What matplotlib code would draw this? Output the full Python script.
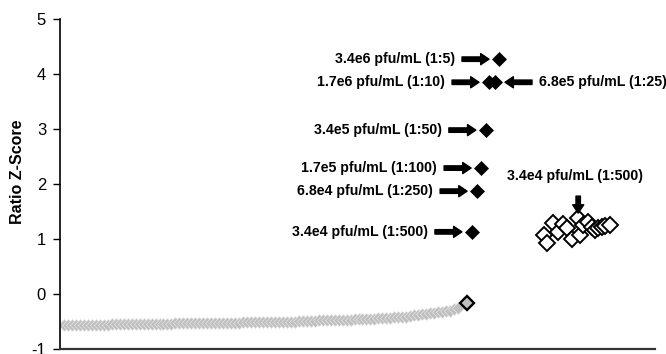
import matplotlib
matplotlib.use("Agg")
import matplotlib.pyplot as plt

plt.rcParams["font.family"] = ["Liberation Sans", "DejaVu Sans"]

# background samples, ranked by ratio z-score
bg_rank = list(range(1, 101))
bg_z = [
    -0.57, -0.57, -0.57, -0.57, -0.57, -0.56, -0.56, -0.56, -0.56, -0.56,
    -0.56, -0.56, -0.55, -0.55, -0.55, -0.55, -0.55, -0.55, -0.55, -0.55,
    -0.54, -0.54, -0.54, -0.54, -0.54, -0.54, -0.54, -0.54, -0.53, -0.53,
    -0.53, -0.53, -0.53, -0.53, -0.53, -0.53, -0.52, -0.52, -0.52, -0.52,
    -0.52, -0.52, -0.52, -0.52, -0.52, -0.51, -0.51, -0.51, -0.51, -0.51,
    -0.51, -0.51, -0.50, -0.50, -0.50, -0.50, -0.50, -0.50, -0.50, -0.49,
    -0.49, -0.49, -0.49, -0.49, -0.48, -0.48, -0.48, -0.48, -0.48, -0.47,
    -0.47, -0.47, -0.47, -0.46, -0.46, -0.46, -0.45, -0.45, -0.45, -0.44,
    -0.44, -0.43, -0.43, -0.42, -0.42, -0.41, -0.41, -0.40, -0.39, -0.38,
    -0.37, -0.36, -0.35, -0.34, -0.33, -0.32, -0.31, -0.30, -0.28, -0.26,
]

# negative control
ctrl_rank = [102.3]
ctrl_z = [-0.16]

# spiked dilution series
dil_labels = [
    "3.4e4 pfu/mL (1:500)",
    "6.8e4 pfu/mL (1:250)",
    "1.7e5 pfu/mL (1:100)",
    "3.4e5 pfu/mL (1:50)",
    "1.7e6 pfu/mL (1:10)",
    "6.8e5 pfu/mL (1:25)",
    "3.4e6 pfu/mL (1:5)",
]
dil_rank = [103.5, 104.8, 105.8, 107.0, 107.8, 109.3, 110.3]
dil_z = [1.13, 1.87, 2.29, 2.98, 3.85, 3.85, 4.27]
dil_side = ["left", "left", "left", "left", "left", "right", "left"]

# replicate spikes at the lowest dilution
rep_label = "3.4e4 pfu/mL (1:500)"
rep_rank = [121.6, 122.4, 123.9, 125.1, 126.4, 127.4, 128.6, 130.2, 130.7,
            131.4, 132.7, 133.7, 134.4, 135.2, 136.2, 136.9, 138.2]
rep_z = [1.07, 0.93, 1.29, 1.13, 1.27, 1.20, 1.00, 1.38, 1.07,
         1.25, 1.31, 1.22, 1.16, 1.20, 1.22, 1.24, 1.25]
rep_pointed = 7

y_ticks = [-1, 0, 1, 2, 3, 4, 5]

fig = plt.figure(figsize=(6.66, 3.54), dpi=100)
ax = fig.add_axes([0.0901, 0.0141, 0.8934, 0.9322])

ax.plot(bg_rank, bg_z, ls="none", marker="D", ms=6.6, mfc="#bfbfbf",
        mec="#e6e6e6", mew=0.5, zorder=2)
ax.plot(ctrl_rank, ctrl_z, ls="none", marker="D", ms=7.4, mfc="#bfbfbf",
        mec="black", mew=1.7, zorder=3)
ax.plot(dil_rank, dil_z, ls="none", marker="D", ms=7.2, mfc="black",
        mec="black", mew=0.5, zorder=3)
ax.plot(rep_rank, rep_z, ls="none", marker="D", ms=7.8, mfc="white",
        mec="black", mew=1.4, zorder=3)

px = 0.72  # points per pixel at 100 dpi
arrow = dict(arrowstyle="simple,head_length=0.6,head_width=0.8,tail_width=0.32",
             fc="black", ec="black", mutation_scale=10, shrinkA=0)
txt = dict(fontsize=10.2, fontweight="bold", va="center")

for lab, x, y, side in zip(dil_labels, dil_rank, dil_z, dil_side):
    s = -1 if side == "left" else 1
    ax.annotate("", xy=(x, y), xytext=(s * 37 * px, 0),
                textcoords="offset points",
                arrowprops=dict(arrow, shrinkB=10 * px))
    ax.annotate(lab, xy=(x, y), xytext=(s * 44 * px, 0),
                textcoords="offset points",
                ha="right" if side == "left" else "left", **txt)

xr, yr = rep_rank[rep_pointed], rep_z[rep_pointed]
ax.annotate("", xy=(xr, yr), xytext=(0, 22 * px), textcoords="offset points",
            arrowprops=dict(arrow, shrinkB=5 * px))
ax.annotate(rep_label, xy=(xr, yr), xytext=(-3 * px, 42 * px),
            textcoords="offset points", ha="center", **txt)

ax.set_xlim(0, 149.5)
ax.set_ylim(-1, 5)
ax.set_yticks(y_ticks)
ax.set_yticklabels([str(t) for t in y_ticks], fontsize=12)
ax.set_xticks([])
ax.tick_params(axis="y", direction="out", length=5, width=1, pad=5)
ax.set_ylabel("Ratio Z-Score", fontsize=11.5, fontweight="bold")
ax.yaxis.set_label_coords(-0.059, 0.536)

for side in ("top", "right"):
    ax.spines[side].set_visible(False)
ax.spines["left"].set_linewidth(1.2)
ax.spines["bottom"].set_linewidth(1.6)
ax.spines["bottom"].set_color("#333333")

fig.savefig("out.png", dpi=100)
